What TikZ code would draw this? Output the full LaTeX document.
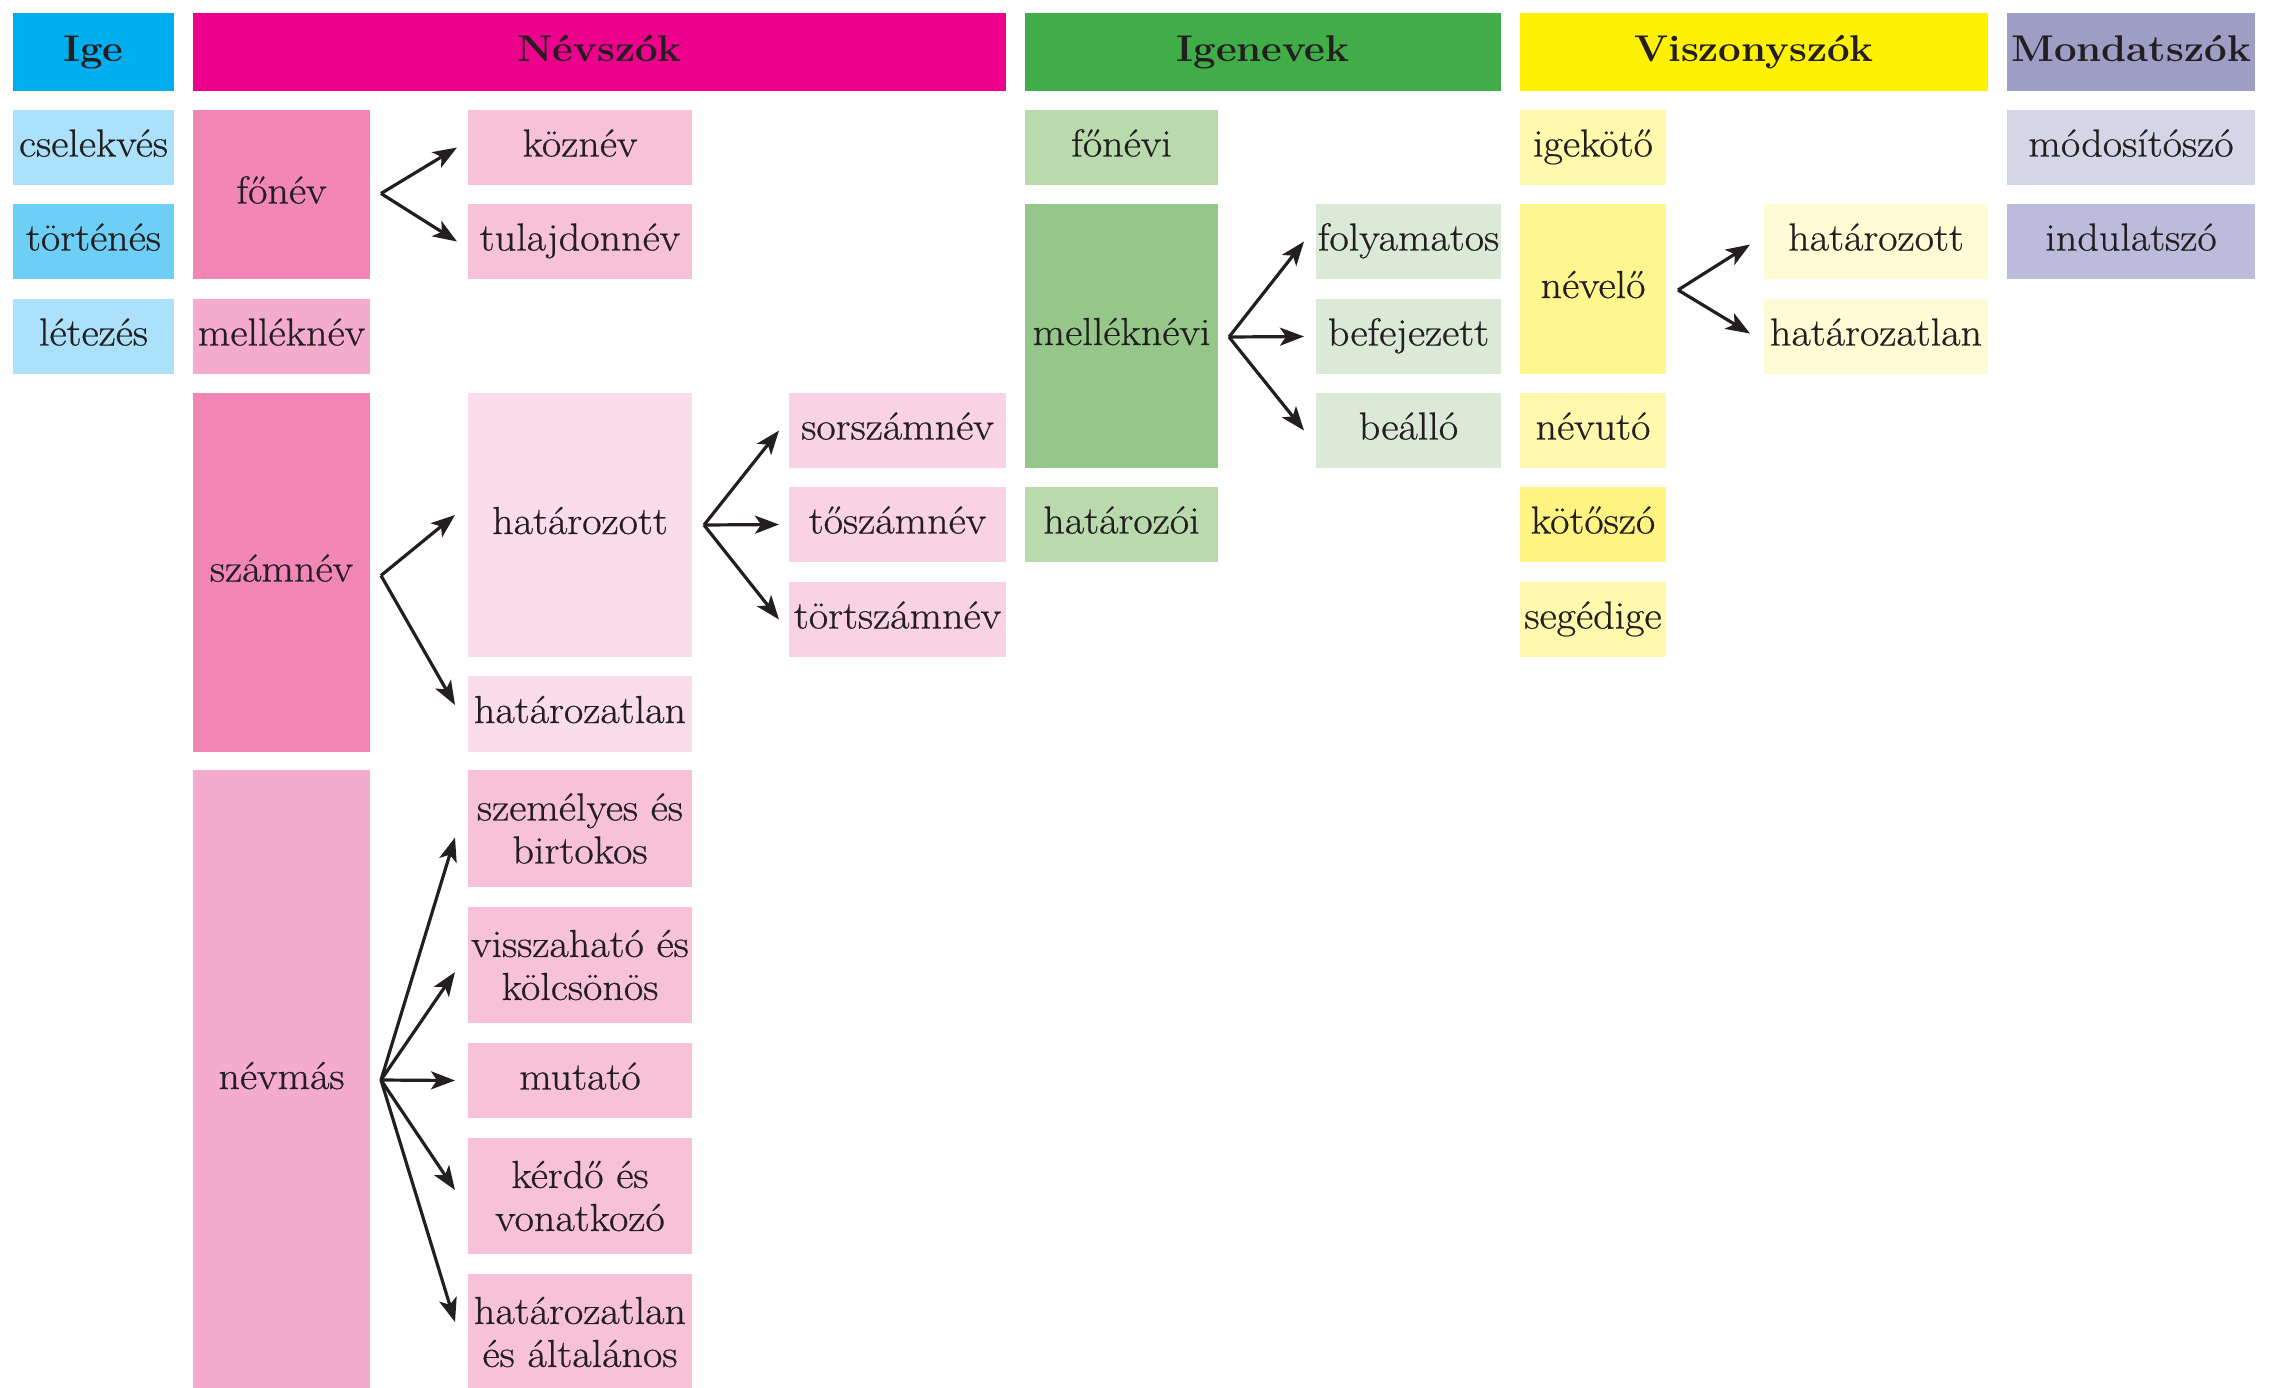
\documentclass[tikz,border=0pt]{standalone}
\usepackage{fontspec}
\setmainfont{Latin Modern Roman}[FakeStretch=1.08, UprightFeatures={FakeBold=0.6}]
\usetikzlibrary{arrows.meta,calc}
\definecolor{txt}{HTML}{231F20}
\definecolor{cIge}{HTML}{00AEEF}
\definecolor{cIgeA}{HTML}{ABE1FA}
\definecolor{cIgeB}{HTML}{6DCFF6}
\definecolor{cNev}{HTML}{EC008C}
\definecolor{cNevA}{HTML}{F287B7}
\definecolor{cNevB}{HTML}{F5ABCD}
\definecolor{cNevC}{HTML}{F7C1D8}
\definecolor{cNevD}{HTML}{FBDCEA}
\definecolor{cNevE}{HTML}{F9D3E4}
\definecolor{cIgn}{HTML}{40AD48}
\definecolor{cIgnA}{HTML}{B8DAAD}
\definecolor{cIgnB}{HTML}{95C78A}
\definecolor{cIgnC}{HTML}{DBEAD6}
\definecolor{cVis}{HTML}{FFF200}
\definecolor{cVisA}{HTML}{FFF9AE}
\definecolor{cVisB}{HTML}{FFF68F}
\definecolor{cVisC}{HTML}{FFF381}
\definecolor{cVisD}{HTML}{FFFBD5}
\definecolor{cMon}{HTML}{9D9DC6}
\definecolor{cMonA}{HTML}{D5D5E8}
\definecolor{cMonB}{HTML}{BCBBDB}
\newcommand\bodyfont{\fontsize{19.5}{21.5}\selectfont}
\newcommand\headfont{\fontsize{18.6}{22}\selectfont\bfseries}
\tikzset{
  cellbox/.style={inner sep=0pt, outer sep=0pt, text=txt, align=center, font=\bodyfont, text height=12pt, text depth=3pt},
  cellboxtwo/.style={inner sep=0pt, outer sep=0pt, text=txt, align=center, font=\bodyfont},
  headbox/.style={cellbox, font=\headfont},
  arr/.style={-{Stealth[length=12pt,width=9pt,inset=3pt]}, line width=1.6pt, draw=txt},
}
% name, style, x1, y1, x2, y2, colour, text
\newcommand\cell[8]{\node[#2, fill=#7, minimum width={(#5-#3)*0.5pt}, minimum height={(#6-#4)*0.5pt}] (#1) at ({(#3+#5)/2},{(#4+#6)/2}) {#8};}
\begin{document}
\begin{tikzpicture}[x=0.5pt,y=-0.5pt]
\useasboundingbox (0,0) rectangle (2274,1387);
\fill[white] (0,0) rectangle (2274,1387);
% headers
\cell{hIge}{headbox}{13}{13}{174}{91}{cIge}{Ige}
\cell{hNev}{headbox}{193}{13}{1006}{91}{cNev}{Névszók}
\cell{hIgn}{headbox}{1025}{13}{1501}{91}{cIgn}{Igenevek}
\cell{hVis}{headbox}{1520}{13}{1988}{91}{cVis}{Viszonyszók}
\cell{hMon}{headbox}{2007}{13}{2255}{91}{cMon}{Mondatszók}
% Ige
\cell{cselekves}{cellbox}{13}{110}{174}{185}{cIgeA}{cselekvés}
\cell{tortenes}{cellbox}{13}{204}{174}{279}{cIgeB}{történés}
\cell{letezes}{cellbox}{13}{299}{174}{374}{cIgeA}{létezés}
% Névszók
\cell{fonev}{cellbox}{193}{110}{370}{279}{cNevA}{főnév}
\cell{melleknev}{cellbox}{193}{299}{370}{374}{cNevB}{melléknév}
\cell{szamnev}{cellbox}{193}{393}{370}{752}{cNevA}{számnév}
\cell{nevmas}{cellbox}{193}{770}{370}{1390}{cNevB}{névmás}
\cell{koznev}{cellbox}{468}{110}{692}{185}{cNevC}{köznév}
\cell{tulajdonnev}{cellbox}{468}{204}{692}{279}{cNevC}{tulajdonnév}
\cell{hatarozott}{cellbox}{468}{393}{692}{657}{cNevD}{határozott}
\cell{hatarozatlan}{cellbox}{468}{676}{692}{752}{cNevD}{határozatlan}
\cell{szemelyes}{cellboxtwo}{468}{770}{692}{887}{cNevC}{személyes és\\birtokos}
\cell{visszahato}{cellboxtwo}{468}{907}{692}{1023}{cNevC}{visszaható és\\kölcsönös}
\cell{mutato}{cellbox}{468}{1043}{692}{1118}{cNevC}{mutató}
\cell{kerdo}{cellboxtwo}{468}{1138}{692}{1254}{cNevC}{kérdő és\\vonatkozó}
\cell{hatalt}{cellboxtwo}{468}{1274}{692}{1390}{cNevC}{határozatlan\\és általános}
\cell{sorszam}{cellbox}{789}{393}{1006}{468}{cNevE}{sorszámnév}
\cell{toszam}{cellbox}{789}{487}{1006}{562}{cNevE}{tőszámnév}
\cell{tortszam}{cellbox}{789}{582}{1006}{657}{cNevE}{törtszámnév}
% Igenevek
\cell{fonevi}{cellbox}{1025}{110}{1218}{185}{cIgnA}{főnévi}
\cell{melleknevi}{cellbox}{1025}{204}{1218}{468}{cIgnB}{melléknévi}
\cell{hatarozoi}{cellbox}{1025}{487}{1218}{562}{cIgnA}{határozói}
\cell{folyamatos}{cellbox}{1316}{204}{1501}{279}{cIgnC}{folyamatos}
\cell{befejezett}{cellbox}{1316}{299}{1501}{374}{cIgnC}{befejezett}
\cell{beallo}{cellbox}{1316}{393}{1501}{468}{cIgnC}{beálló}
% Viszonyszók
\cell{igekoto}{cellbox}{1520}{110}{1666}{185}{cVisA}{igekötő}
\cell{nevelo}{cellbox}{1520}{204}{1666}{374}{cVisB}{névelő}
\cell{nevuto}{cellbox}{1520}{393}{1666}{468}{cVisA}{névutó}
\cell{kotoszo}{cellbox}{1520}{487}{1666}{562}{cVisC}{kötőszó}
\cell{segedige}{cellbox}{1520}{582}{1666}{657}{cVisA}{segédige}
\cell{vhat}{cellbox}{1764}{204}{1988}{279}{cVisD}{határozott}
\cell{vhatlan}{cellbox}{1764}{299}{1988}{374}{cVisD}{határozatlan}
% Mondatszók
\cell{modosito}{cellbox}{2007}{110}{2255}{185}{cMonA}{módosítószó}
\cell{indulat}{cellbox}{2007}{204}{2255}{279}{cMonB}{indulatszó}
% arrow origins
\coordinate (oFonev) at ($(fonev.east)+(11,-1)$);
\coordinate (oSzam) at ($(szamnev.east)+(11,3)$);
\coordinate (oHat) at ($(hatarozott.east)+(12,0)$);
\coordinate (oNevmas) at ($(nevmas.east)+(11,0)$);
\coordinate (oMellek) at ($(melleknevi.east)+(11,1)$);
\coordinate (oNevelo) at ($(nevelo.east)+(12,1)$);
% arrows
\draw[arr] (oFonev) -- ($(koznev.west)+(-11,0)$);
\draw[arr] (oFonev) -- ($(tulajdonnev.west)+(-11,0)$);
\draw[arr] (oSzam) -- ($(hatarozott.west)+(-13,-10)$);
\draw[arr] (oSzam) -- ($(hatarozatlan.west)+(-13,-9)$);
\draw[arr] (oHat) -- ($(sorszam.west)+(-10,0)$);
\draw[arr] (oHat) -- ($(toszam.west)+(-10,0)$);
\draw[arr] (oHat) -- ($(tortszam.west)+(-10,0)$);
\draw[arr] (oNevmas) -- ($(szemelyes.west)+(-13,9)$);
\draw[arr] (oNevmas) -- ($(visszahato.west)+(-13,7)$);
\draw[arr] (oNevmas) -- ($(mutato.west)+(-13,0)$);
\draw[arr] (oNevmas) -- ($(kerdo.west)+(-13,-6)$);
\draw[arr] (oNevmas) -- ($(hatalt.west)+(-13,-10)$);
\draw[arr] (oMellek) -- ($(folyamatos.west)+(-12,0)$);
\draw[arr] (oMellek) -- ($(befejezett.west)+(-12,0)$);
\draw[arr] (oMellek) -- ($(beallo.west)+(-12,0)$);
\draw[arr] (oNevelo) -- ($(vhat.west)+(-14,3)$);
\draw[arr] (oNevelo) -- ($(vhatlan.west)+(-14,-3)$);
\end{tikzpicture}
\end{document}
